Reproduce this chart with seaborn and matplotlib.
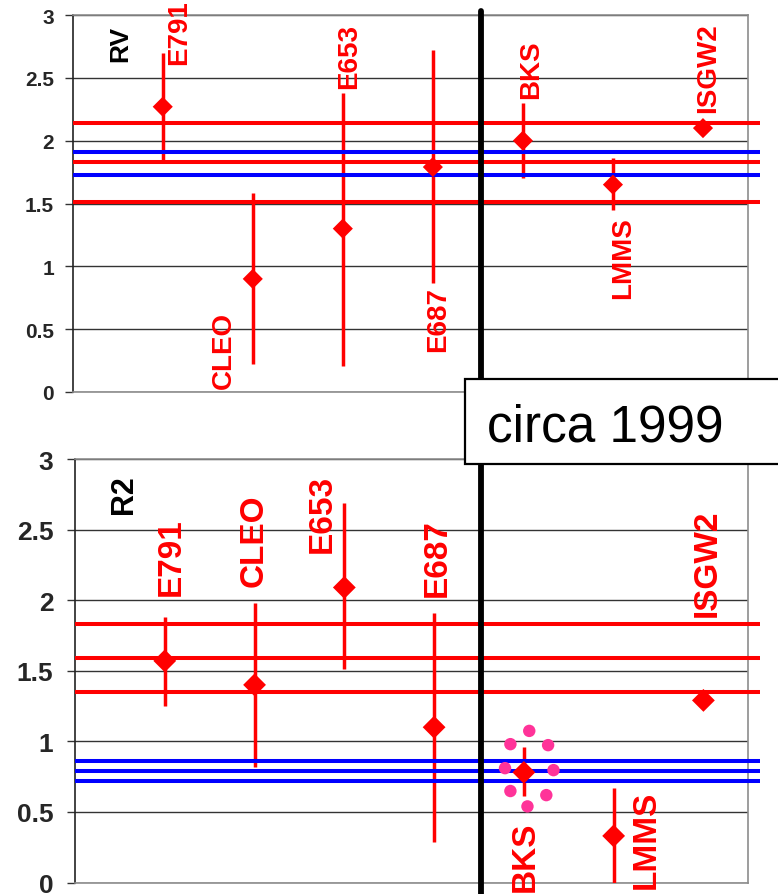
import numpy as np
import matplotlib
matplotlib.use("Agg")
import matplotlib.pyplot as plt
from matplotlib.patches import Rectangle
import seaborn as sns

experiments = ["E791", "CLEO", "E653", "E687", "BKS", "LMMS", "ISGW2"]
positions = [1, 2, 3, 4, 5, 6, 7]

rv_value = [2.27, 0.90, 1.30, 1.79, 2.00, 1.65, 2.10]
rv_low = [1.85, 0.22, 0.21, 0.87, 1.70, 1.45, np.nan]
rv_high = [2.70, 1.58, 2.38, 2.72, 2.30, 1.86, np.nan]
rv_red_lines = [2.14, 1.83, 1.51]
rv_blue_lines = [1.91, 1.73]

r2_value = [1.57, 1.40, 2.09, 1.10, 0.78, 0.33, 1.29]
r2_low = [1.25, 0.815, 1.51, 0.285, 0.61, 0.0, np.nan]
r2_high = [1.88, 1.98, 2.69, 1.91, 0.957, 0.667, np.nan]
r2_red_lines = [1.83, 1.587, 1.346]
r2_blue_lines = [0.862, 0.789, 0.716]

# pink halo around the BKS point in the R2 panel
halo_x = [5.06, 4.85, 5.27, 4.79, 5.33, 4.85, 5.25, 5.04]
halo_y = [1.074, 0.98, 0.973, 0.81, 0.796, 0.648, 0.619, 0.539]

y_ticks = [0, 0.5, 1, 1.5, 2, 2.5, 3]

# label anchors (centre x, lower end y) in data units
rv_label_x = [1.18, 1.68, 3.07, 4.06, 5.09, 6.11, 7.06]
rv_label_y = [2.61, 0.03, 2.42, 0.33, 2.34, 0.75, 2.23]
r2_label_x = [1.07, 1.99, 2.75, 4.03, 5.02, 6.36, 7.04]
r2_label_y = [2.04, 2.10, 2.34, 2.03, -0.06, -0.04, 1.89]

sns.set_style("white")
plt.rcParams["font.family"] = ["Liberation Sans", "DejaVu Sans"]

W, H = 778, 895
fig = plt.figure(figsize=(W / 100, H / 100), dpi=100)
ax_top = fig.add_axes([72.7 / W, 1 - 393 / H, 675.3 / W, 377 / H])
ax_bot = fig.add_axes([75 / W, 1 - 883.5 / H, 673.3 / W, 423.5 / H])


def draw_panel(ax, values, low, high, reds, blues, lab_x, lab_y,
               lab_size, tick_size, ms, name, name_xy, name_size, pad):
    ax.set_facecolor("none")
    ax.set_xlim(0, 7.5)
    ax.set_ylim(0, 3)
    ax.set_xticks([])
    ax.set_yticks(y_ticks)
    ax.set_yticklabels([f"{t:g}" for t in y_ticks], fontsize=tick_size,
                       fontweight="bold")
    ax.tick_params(axis="y", left=True, length=5.5, width=1, color="#333333",
                   pad=pad)
    ax.yaxis.grid(True, color="#333333", lw=1)
    ax.set_axisbelow(True)
    for side in ["top", "right", "bottom"]:
        ax.spines[side].set_color("#8c8c8c")
        ax.spines[side].set_linewidth(1.2)
    ax.spines["left"].set_color("#222222")
    ax.spines["left"].set_linewidth(1.2)

    ax.hlines(reds, 0, 7.63, color="#ff0000", lw=2.9, clip_on=False, zorder=3)
    ax.vlines(positions, low, high, color="#ff0000", lw=2.5, zorder=3.5)
    ax.hlines(blues, 0, 7.63, color="#0000ff", lw=2.9, clip_on=False, zorder=4)
    sns.scatterplot(x=positions, y=values, marker="D", s=ms, color="#ff0000",
                    edgecolor="none", linewidth=0, ax=ax, zorder=6,
                    legend=False, clip_on=False)

    for txt, x, y in zip(experiments, lab_x, lab_y):
        ax.text(x, y, txt, rotation=90, ha="center", va="bottom",
                color="#ff0000", fontsize=lab_size, fontweight="bold",
                clip_on=False, zorder=7)
    ax.text(name_xy[0], name_xy[1], name, rotation=90, ha="center",
            va="bottom", color="black", fontsize=name_size, fontweight="bold")


draw_panel(ax_top, rv_value, rv_low, rv_high, rv_red_lines, rv_blue_lines,
           rv_label_x, rv_label_y, 20, 15, 105, "RV", (0.53, 2.63), 19, 8)
draw_panel(ax_bot, r2_value, r2_low, r2_high, r2_red_lines, r2_blue_lines,
           r2_label_x, r2_label_y, 24, 19, 135, "R2", (0.55, 2.62), 22, 10)

sns.scatterplot(x=halo_x, y=halo_y, color="#ff3399", s=80, edgecolor="none",
                linewidth=0, ax=ax_bot, zorder=5, legend=False)

# divider between the two groups, running over both panels
ax_bot.axvline(4.52, ymin=-0.04, ymax=(883.5 - 12) / 423.5, color="black",
               lw=4.2, clip_on=False, zorder=8)

box = Rectangle((465 / W, 1 - 465 / H), 340 / W, 85 / H,
                transform=fig.transFigure, facecolor="white",
                edgecolor="black", lw=1.6, zorder=20)
fig.add_artist(box)
fig.text(486.7 / W, 1 - 441.7 / H, "circa 1999", fontsize=37,
         va="baseline", ha="left", color="black", zorder=21)

fig.savefig("out.png", dpi=100)
